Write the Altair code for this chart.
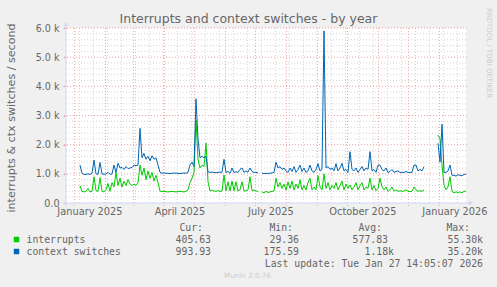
import altair as alt
import pandas as pd

# ---------------- data ----------------
START = pd.Timestamp("2024-12-23 14:05:07")   # left edge of the 400-day window
FIRST_DAY = 14                                 # first sample (days after START)
STEP = 2                                       # days between samples

# values in thousands per second, one every 2 days (None = no data)
interrupts_k = [
    0.59, 0.40, 0.38, 0.40, 0.50, 0.38, 0.40, 0.90, 0.42, 0.40,
    0.87, 0.40, 0.38, 0.45, 0.67, 0.40, 0.70, 0.55, 1.05, 0.60,
    0.85, 0.55, 0.75, 0.60, 0.80, 0.65, 0.60, 0.65, 0.60, 0.70,
    1.30, 0.95, 1.20, 0.80, 1.10, 0.85, 1.05, 0.75, 0.95, 0.70,
    0.41, 0.39, 0.40, 0.39, 0.38, 0.39, 0.40, 0.39, 0.38, 0.39,
    0.40, 0.39, 0.38, 0.40, 0.45, 0.70, 0.85, 1.05, 2.85, 1.50,
    1.20, 1.30, 1.25, 2.05, 0.73, 0.41, 0.45, 0.41, 0.40, 0.42,
    0.40, 0.41, 0.96, 0.42, 0.73, 0.41, 0.75, 0.42, 0.73, 0.41,
    0.45, 0.73, 0.41, 0.42, 0.45, 0.90, 0.42, 0.45, 0.41, 0.40,
    None, 0.38, 0.35, 0.40, 0.36, 0.38, 0.40, 0.42, 0.85, 0.55,
    0.70, 0.50, 0.65, 0.45, 0.72, 0.50, 0.75, 0.45, 0.65, 0.50,
    0.80, 0.45, 0.60, 0.45, 0.70, 0.85, 0.45, 0.55, 0.45, 0.94,
    0.55, 0.45, 1.00, 0.50, 0.70, 0.45, 0.60, 0.50, 0.70, 0.45,
    0.60, 0.75, 0.45, 0.65, 0.50, 0.62, 0.45, 0.55, 0.70, 0.45,
    0.60, 0.70, 0.45, 0.55, 0.50, 0.85, 0.45, 0.60, 0.42, 0.50,
    0.85, 0.55, 0.45, 0.55, 0.40, 0.45, 0.55, 0.41, 0.45, 0.40,
    0.42, 0.40, 0.41, 0.45, 0.40, 0.39, 0.40, 0.55, 0.45, 0.40,
    0.42, 0.40, 0.45, None, None, None, None, None, None, 2.33,
    2.20, 1.30, 0.62, 0.45, 0.55, 0.90, 0.40, 0.35, 0.38, 0.36,
    0.38, 0.35, 0.40, 0.41,
]

context_switches_k = [
    1.30, 1.02, 0.98, 0.98, 1.00, 0.98, 1.02, 1.47, 1.00, 0.98,
    1.39, 1.00, 0.98, 1.00, 1.05, 0.98, 1.00, 1.30, 1.05, 1.36,
    1.20, 1.22, 1.15, 1.25, 1.18, 1.20, 1.22, 1.30, 1.28, 1.30,
    2.56, 1.55, 1.70, 1.50, 1.60, 1.45, 1.62, 1.50, 1.55, 1.30,
    1.05, 1.02, 1.03, 1.02, 1.02, 1.01, 1.02, 1.03, 1.02, 1.02,
    1.01, 1.02, 1.03, 1.02, 1.05, 1.30, 1.40, 1.25, 3.57, 2.20,
    1.55, 1.60, 1.55, 1.60, 1.07, 1.05, 1.06, 1.05, 1.04, 1.05,
    1.06, 1.05, 1.50, 1.05, 1.08, 1.02, 1.20, 1.05, 1.07, 1.05,
    1.15, 1.20, 1.05, 1.10, 1.06, 1.20, 1.08, 1.05, 1.05, 1.04,
    None, 1.02, 1.01, 1.02, 1.01, 1.02, 1.03, 1.05, 1.40, 1.20,
    1.25, 1.15, 1.20, 1.10, 1.05, 1.20, 1.08, 1.25, 1.05, 1.15,
    1.30, 1.08, 1.20, 1.05, 1.10, 1.30, 1.10, 1.05, 1.15, 1.35,
    1.10, 1.15, 5.90, 1.20, 1.25, 1.15, 1.20, 1.10, 1.35, 1.10,
    1.20, 1.36, 1.10, 1.15, 1.05, 1.76, 1.15, 1.10, 1.20, 1.05,
    1.15, 1.25, 1.10, 1.20, 1.15, 1.76, 1.10, 1.15, 1.05, 1.30,
    1.30, 1.15, 1.10, 1.20, 1.05, 1.08, 1.15, 1.05, 1.08, 1.10,
    1.05, 1.05, 1.05, 1.08, 1.05, 1.05, 1.05, 1.30, 1.30, 1.10,
    1.15, 1.10, 1.25, None, None, None, None, None, None, 2.05,
    1.40, 2.70, 1.05, 1.05, 1.10, 1.30, 0.95, 0.95, 0.92, 0.97,
    0.95, 0.93, 0.98, 0.99,
]

series_names = ["interrupts", "context switches"]
series_colors = ["#00CC00", "#0066B3"]

legend_headers = ["Cur:", "Min:", "Avg:", "Max:"]
legend_cur = ["405.63", "993.93"]
legend_min = ["29.36", "175.59"]
legend_avg = ["577.83", "1.18k"]
legend_max = ["55.30k", "35.20k"]

y_major = [0, 1000, 2000, 3000, 4000, 5000, 6000]
y_minor = [v for v in range(200, 6000, 200) if v % 1000]
label_months = ["January 2025", "April 2025", "July 2025", "October 2025", "January 2026"]

TITLE = "Interrupts and context switches - by year"
Y_TITLE = "interrupts & ctx switches / second"
LAST_UPDATE = "Last update: Tue Jan 27 14:05:07 2026"
MUNIN = "Munin 2.0.76"
RRD = "RRDTOOL / TOBI OETIKER"

# ---------------- derived tables ----------------
def day(ts):
    return (pd.Timestamp(ts) - START) / pd.Timedelta(days=1)

month_starts = [day(t) for t in pd.date_range("2025-01-01", "2026-01-01", freq="MS")]
week_lines = [day(t) for t in pd.date_range("2025-01-06", "2026-01-27", freq="14D")]
week_lines = [w for w in week_lines if w < 400]
label_pos = [day(t) + 15.5 for t in ["2025-01-01", "2025-04-01", "2025-07-01", "2025-10-01", "2026-01-01"]]

def series_df(name, vals):
    rows, seg = [], 0
    for i, v in enumerate(vals):
        if v is None:
            seg += 1
            continue
        rows.append({"series": name, "d": FIRST_DAY + STEP * i, "v": v * 1000, "seg": f"{name}{seg}"})
    return pd.DataFrame(rows)

df_int = series_df(series_names[0], interrupts_k)
df_ctx = series_df(series_names[1], context_switches_k)

W, H = 400, 175
FONT = "DejaVu Sans"
MONO = "DejaVu Sans Mono"
TXT = "#666666"
xs = alt.Scale(domain=[0, 400], nice=False, zero=False)
ys = alt.Scale(domain=[0, 6000], nice=False)

MINOR = "#D4D4D4"
MAJOR = "#EFA3A3"
AXIS = "#CFD6F8"

# ---------------- layers ----------------
minor_y = alt.Chart(pd.DataFrame({"v": y_minor})).mark_rule(
    color=MINOR, strokeDash=[1, 2], strokeWidth=1
).encode(y=alt.Y("v:Q", scale=ys, axis=None))

minor_x = alt.Chart(pd.DataFrame({"d": week_lines})).mark_rule(
    color=MINOR, strokeDash=[1, 2], strokeWidth=1
).encode(x=alt.X("d:Q", scale=xs, axis=None))

major_y = alt.Chart(pd.DataFrame({"v": y_major[1:]})).mark_rule(
    color=MAJOR, strokeDash=[1, 2], strokeWidth=1
).encode(y=alt.Y("v:Q", scale=ys, axis=None), x=alt.value(-2), x2=alt.value(W + 2))

major_x = alt.Chart(pd.DataFrame({"d": month_starts})).mark_rule(
    color=MAJOR, strokeDash=[1, 2], strokeWidth=1
).encode(x=alt.X("d:Q", scale=xs, axis=None), y=alt.value(0), y2=alt.value(H + 3))

y_axis = alt.Axis(
    values=y_major,
    labelExpr="datum.value == 0 ? '0.0' : format(datum.value / 1000, '.1f') + ' k'",
    grid=False, domain=False, ticks=True, tickColor=MAJOR, tickSize=3,
    labelFont=FONT, labelFontSize=9.6, labelColor=TXT, labelPadding=4,
    title=Y_TITLE, titleFont=FONT, titleFontSize=11.1, titleColor=TXT,
    titleFontWeight="normal", titleAngle=270, titleX=-55, titleY=H / 2 + 2,
    titleAlign="center", titleBaseline="middle",
)

line_int = alt.Chart(df_int).mark_line(strokeWidth=1, color=series_colors[0]).encode(
    x=alt.X("d:Q", scale=xs, axis=None),
    y=alt.Y("v:Q", scale=ys, axis=y_axis),
    detail="seg:N",
)
line_ctx = alt.Chart(df_ctx).mark_line(strokeWidth=1, color=series_colors[1]).encode(
    x=alt.X("d:Q", scale=xs, axis=None),
    y=alt.Y("v:Q", scale=ys, axis=None),
    detail="seg:N",
)

axis_y_line = alt.Chart().mark_rule(color=AXIS, strokeWidth=1).encode(
    x=alt.value(0), y=alt.value(-4), y2=alt.value(H + 3))
axis_x_line = alt.Chart().mark_rule(color=AXIS, strokeWidth=1).encode(
    x=alt.value(-3), x2=alt.value(W + 4), y=alt.value(H))
arrow_up = alt.Chart().mark_point(shape="triangle-up", filled=True, color=AXIS, size=22, opacity=1).encode(
    x=alt.value(0), y=alt.value(-4))
arrow_right = alt.Chart().mark_point(shape="triangle-right", filled=True, color=AXIS, size=22, opacity=1).encode(
    x=alt.value(W + 5), y=alt.value(H))

xlabels = alt.Chart(pd.DataFrame({"d": label_pos, "t": label_months})).mark_text(
    font=FONT, fontSize=9.8, color=TXT, baseline="middle", align="center"
).encode(x=alt.X("d:Q", scale=xs, axis=None), y=alt.value(184), text="t:N")

title = alt.Chart().mark_text(
    text=TITLE, font=FONT, fontSize=12.5, color=TXT, align="center", baseline="alphabetic"
).encode(x=alt.value(182.5), y=alt.value(-4.7))

# legend table
rows = []
hdr_right = [137, 227, 316, 404]
num_right = [145, 233, 322, 411]
for h, xr in zip(legend_headers, hdr_right):
    rows.append({"t": h, "px": xr, "py": 199.5})
for i, name in enumerate(series_names):
    py = 211.5 + 12 * i
    for col, xr in zip([legend_cur, legend_min, legend_avg, legend_max], num_right):
        s = col[i]
        rows.append({"t": s, "px": xr + (6 if s.endswith("k") else 0), "py": py})
legend_df = pd.DataFrame(rows)

legend_vals = alt.Chart(legend_df).mark_text(
    font=MONO, fontSize=9.8, color=TXT, align="right", baseline="middle"
).encode(x=alt.X("px:Q", scale=None, axis=None), y=alt.Y("py:Q", scale=None, axis=None), text="t:N")

names_df = pd.DataFrame({"t": series_names, "py": [211.5, 223.5], "c": series_colors})
legend_names = alt.Chart(names_df).mark_text(
    font=MONO, fontSize=9.8, color=TXT, align="left", baseline="middle"
).encode(x=alt.value(-39.5), y=alt.Y("py:Q", scale=None, axis=None), text="t:N")
legend_boxes = alt.Chart(names_df).mark_square(size=30, opacity=1).encode(
    x=alt.value(-49.5), y=alt.Y("py:Q", scale=None, axis=None),
    color=alt.Color("c:N", scale=None, legend=None))

last_update = alt.Chart().mark_text(
    text=LAST_UPDATE, font=MONO, fontSize=9.8, color=TXT, align="right", baseline="middle"
).encode(x=alt.value(417), y=alt.value(235.5))
munin = alt.Chart().mark_text(
    text=MUNIN, font=FONT, fontSize=7.2, color="#CCCCCC", align="center", baseline="middle"
).encode(x=alt.value(181.5), y=alt.value(248))
rrd = alt.Chart().mark_text(
    text=RRD, font=FONT, fontSize=7, color="#CCCCCC", align="center", baseline="middle", angle=90
).encode(x=alt.value(423), y=alt.value(25))

chart = alt.layer(
    minor_y, minor_x, major_y, major_x, line_int, line_ctx,
    axis_y_line, axis_x_line, arrow_up, arrow_right,
    xlabels, title, legend_vals, legend_names, legend_boxes, last_update, munin, rrd,
).resolve_scale(x="independent", y="independent", color="independent").properties(
    width=W, height=H,
    autosize=alt.AutoSizeParams(type="none"),
    padding={"left": 66, "top": 28, "right": 31, "bottom": 84},
    background="#F0F0F0",
).configure_view(fill="#FFFFFF", strokeWidth=0)

chart.save("out.html", embed_options={"renderer": "svg", "actions": False})
